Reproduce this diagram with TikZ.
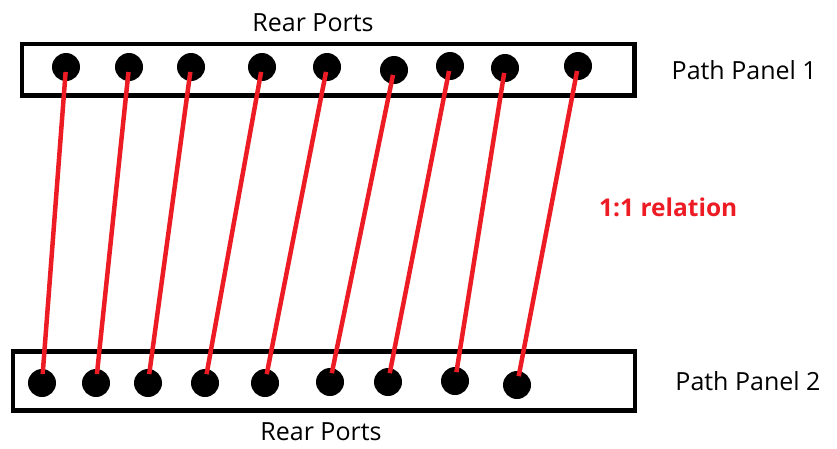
\documentclass[tikz,border=0pt]{standalone}
\usepackage{fontspec}
\setmainfont{Open Sans}
\usetikzlibrary{positioning}
\definecolor{paintred}{RGB}{237,28,36}
\tikzset{
  ppanel/.style={rectangle, draw=black, line width=4.5pt, inner sep=0pt},
  pport/.style={circle, fill=black, minimum size=28pt, inner sep=0pt},
  pwire/.style={paintred, line width=4.5pt, shorten <=5pt, shorten >=9pt},
  plabel/.style={font=\fontsize{25}{30}\selectfont, inner sep=0pt}
}

\begin{document}
\begin{tikzpicture}[x=1pt, y=-1pt]
\useasboundingbox (0,0) rectangle (837,448);
% the two panels
\node[ppanel, minimum width=612.5pt, minimum height=51.5pt] (panelA) at (328,69.75) {};
\node[ppanel, minimum width=622pt, minimum height=59pt] (panelB) at (324,381) {};
\node[plabel, above=10pt of panelA, xshift=-15pt] (rearA) {Rear Ports};
\node[plabel, below=10pt of panelB, xshift=-3pt] (rearB) {Rear Ports};
\node[plabel, right=35pt of panelA] (nameA) {Path Panel 1};
\node[plabel, right=38pt of panelB] (nameB) {Path Panel 2};
\node[plabel, anchor=base west, text=paintred, font=\fontsize{24.5}{29}\selectfont\bfseries] (rel) at (599,216) {1:1 relation};
% rear ports of panel 1
\node[pport] (t1) at (66,67) {};
\node[pport] (t2) at (129,67) {};
\node[pport] (t3) at (191,67) {};
\node[pport] (t4) at (262,67) {};
\node[pport] (t5) at (327,67) {};
\node[pport] (t6) at (394,70) {};
\node[pport] (t7) at (450,66) {};
\node[pport] (t8) at (505,68) {};
\node[pport] (t9) at (578,66) {};
% rear ports of panel 2
\node[pport] (b1) at (42,383) {};
\node[pport] (b2) at (96,383) {};
\node[pport] (b3) at (148,383) {};
\node[pport] (b4) at (205,383) {};
\node[pport] (b5) at (265,383) {};
\node[pport] (b6) at (330,382) {};
\node[pport] (b7) at (388,382) {};
\node[pport] (b8) at (455,381) {};
\node[pport] (b9) at (517,385) {};
% 1:1 wires
\draw[pwire] (t1.center) -- (b1.center);
\draw[pwire] (t2.center) -- (b2.center);
\draw[pwire] (t3.center) -- (b3.center);
\draw[pwire] (t4.center) -- (b4.center);
\draw[pwire] (t5.center) -- (b5.center);
\draw[pwire] (t6.center) -- (b6.center);
\draw[pwire] (t7.center) -- (b7.center);
\draw[pwire] (t8.center) -- (b8.center);
\draw[pwire] (t9.center) -- (b9.center);
\end{tikzpicture}
\end{document}
